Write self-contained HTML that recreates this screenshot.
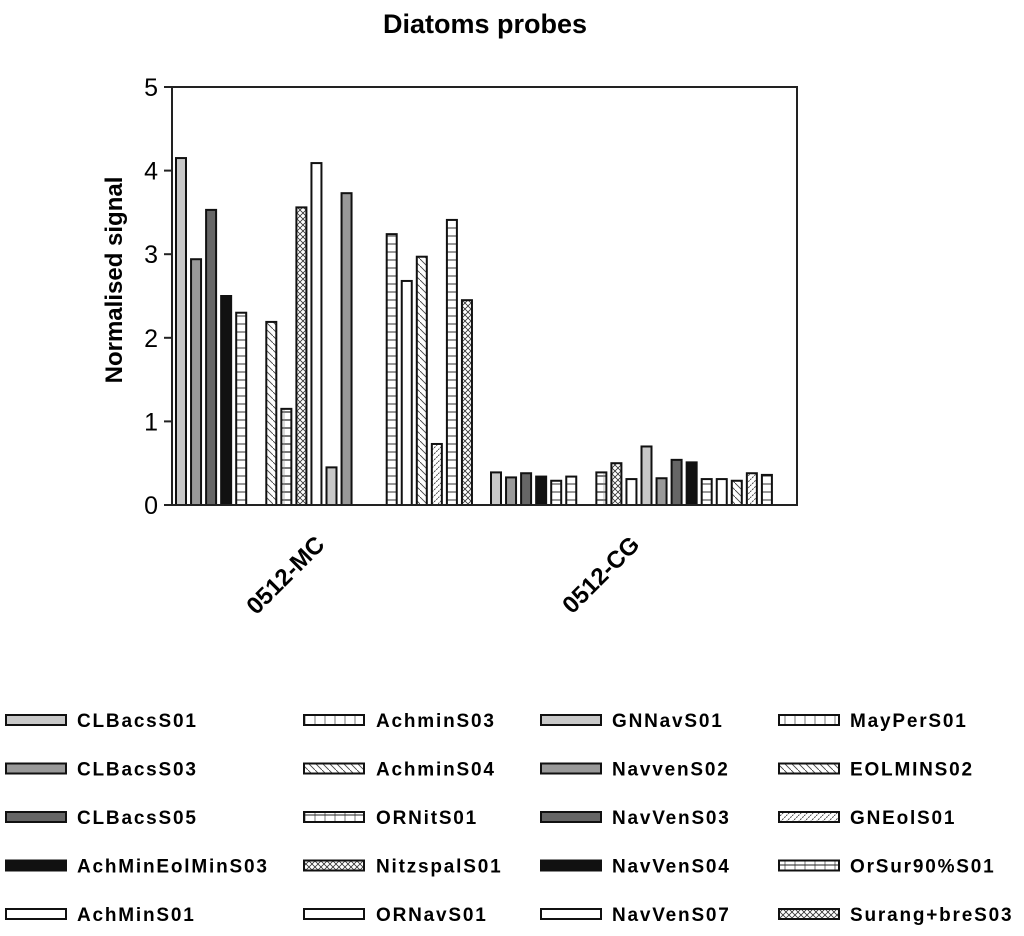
<!DOCTYPE html>
<html><head><meta charset="utf-8"><style>
body{margin:0;background:#fff;}
svg text{font-family:"Liberation Sans",Arial,sans-serif;}
</style></head><body>
<svg width="1024" height="931" viewBox="0 0 1024 931" xmlns="http://www.w3.org/2000/svg">
<defs>
<pattern id="p-hl" width="10" height="8" patternUnits="userSpaceOnUse"><rect width="10" height="8" fill="#fff"/><line x1="0" y1="4" x2="10" y2="4" stroke="#333" stroke-width="1"/></pattern>
<pattern id="p-grid" width="8" height="8" patternUnits="userSpaceOnUse"><rect width="8" height="8" fill="#fff"/><line x1="0" y1="4" x2="8" y2="4" stroke="#222" stroke-width="1.2"/><line x1="4" y1="0" x2="4" y2="8" stroke="#888" stroke-width="0.6"/></pattern>
<pattern id="p-diag" width="7" height="7" patternUnits="userSpaceOnUse"><rect width="7" height="7" fill="#fff"/><line x1="0" y1="0" x2="7" y2="7" stroke="#444" stroke-width="0.9"/></pattern>
<pattern id="p-diag2" width="6" height="6" patternUnits="userSpaceOnUse"><rect width="6" height="6" fill="#fff"/><line x1="0" y1="6" x2="6" y2="0" stroke="#444" stroke-width="0.9" stroke-dasharray="2,1"/></pattern>
<pattern id="p-cross" width="6" height="6" patternUnits="userSpaceOnUse"><rect width="6" height="6" fill="#fff"/><line x1="0" y1="0" x2="6" y2="6" stroke="#333" stroke-width="0.8"/><line x1="0" y1="6" x2="6" y2="0" stroke="#333" stroke-width="0.8"/></pattern>
<pattern id="p-vl" width="10" height="10" patternUnits="userSpaceOnUse"><rect width="10" height="10" fill="#fff"/><line x1="5" y1="0" x2="5" y2="10" stroke="#555" stroke-width="0.8"/><line x1="0" y1="5" x2="10" y2="5" stroke="#222" stroke-width="1"/></pattern>
</defs>
<text x="485" y="33" font-size="27" font-weight="bold" text-anchor="middle">Diatoms probes</text>
<text transform="translate(122,280) rotate(-90)" font-size="24" font-weight="bold" text-anchor="middle">Normalised signal</text>
<g id="plot"></g>
<g id="legend"></g>
<script>
const series = ["CLBacsS01","CLBacsS03","CLBacsS05","AchMinEolMinS03","AchMinS01","AchminS03","AchminS04","ORNitS01","NitzspalS01","ORNavS01","GNNavS01","NavvenS02","NavVenS03","NavVenS04","NavVenS07","MayPerS01","EOLMINS02","GNEolS01","OrSur90%S01","Surang+breS03"];
const fills = ["#c8c8c8","#999","#666","#111","url(#p-hl)","url(#p-hl)","url(#p-diag)","url(#p-grid)","url(#p-cross)","#fff","#c8c8c8","#999","#666","#111","url(#p-hl)","#fff","url(#p-diag)","url(#p-diag2)","url(#p-hl)","url(#p-cross)"];
const legendFills = ["#c8c8c8","#999","#666","#111","#fff","url(#p-vl)","url(#p-diag)","url(#p-vl)","url(#p-cross)","#fff","#c8c8c8","#999","#666","#111","#fff","url(#p-vl)","url(#p-diag)","url(#p-diag2)","url(#p-vl)","url(#p-cross)"];
const categories = ["0512-MC","0512-CG"];
const valuesMC = [4.15,2.94,3.53,2.5,2.3,0,2.19,1.15,3.56,4.09,0.45,3.73,0,0,3.24,2.68,2.97,0.73,3.41,2.45];
const valuesCG = [0.39,0.33,0.38,0.34,0.29,0.34,0,0.39,0.5,0.31,0.7,0.32,0.54,0.51,0.31,0.31,0.29,0.38,0.36,0];
const yTicks = [0,1,2,3,4,5];
const groups=[valuesMC,valuesCG];
const NS="http://www.w3.org/2000/svg";
const X0=172,X1=797,Y0=505,Y5=87;
function y(v){return Y0-(Y0-Y5)*v/5;}
function groupStart(g){return 176+g*315;}
function xBar(g,i){return groupStart(g)+i*15.05;}
function mk(tag,attrs,parent){const e=document.createElementNS(NS,tag);for(const k in attrs)e.setAttribute(k,attrs[k]);parent.appendChild(e);return e;}
const plot=document.getElementById('plot');
groups.forEach((vals,g)=>{vals.forEach((v,i)=>{if(v<=0)return;
 const r=mk('rect',{x:xBar(g,i),y:y(v),width:10,height:Y0-y(v),fill:fills[i],stroke:'#111','stroke-width':2},plot);
 
 
});});
const axis=mk('path',{d:`M${X0} ${Y5}H${X1}V${Y0}H${X0}Z`,fill:'none',stroke:'#222','stroke-width':2},plot);


yTicks.forEach(t=>{
 const l=mk('line',{x1:164,x2:X0,y1:y(t),y2:y(t),stroke:'#222','stroke-width':2},plot);
 
 
 const tx=mk('text',{x:158,y:y(t)+9,'font-size':25,'text-anchor':'end'},plot);tx.textContent=t;
 
 
});
categories.forEach((c,g)=>{
 const cx=groupStart(g)+150;
 const tx=mk('text',{transform:`translate(${cx},${546}) rotate(-45)`,'font-size':24,'font-weight':'bold','text-anchor':'end'},plot);tx.textContent=c;
 
 
});
const leg=document.getElementById('legend');
const colX=[[5,77],[303,376],[540,612],[778,850]];
series.forEach((s,i)=>{
 const c=Math.floor(i/5),r=i%5;const yy=720+r*48.5;
 const g=mk('g',{},leg);
 
 
 mk('rect',{x:colX[c][0]+1,y:yy-5,width:60,height:10,fill:legendFills[i],stroke:'#111','stroke-width':2},g);
 const t=mk('text',{x:colX[c][1],y:yy+7,'font-size':19,'font-weight':'bold','letter-spacing':'1.8'},g);t.textContent=s;
});
</script>
</svg>
</body></html>
